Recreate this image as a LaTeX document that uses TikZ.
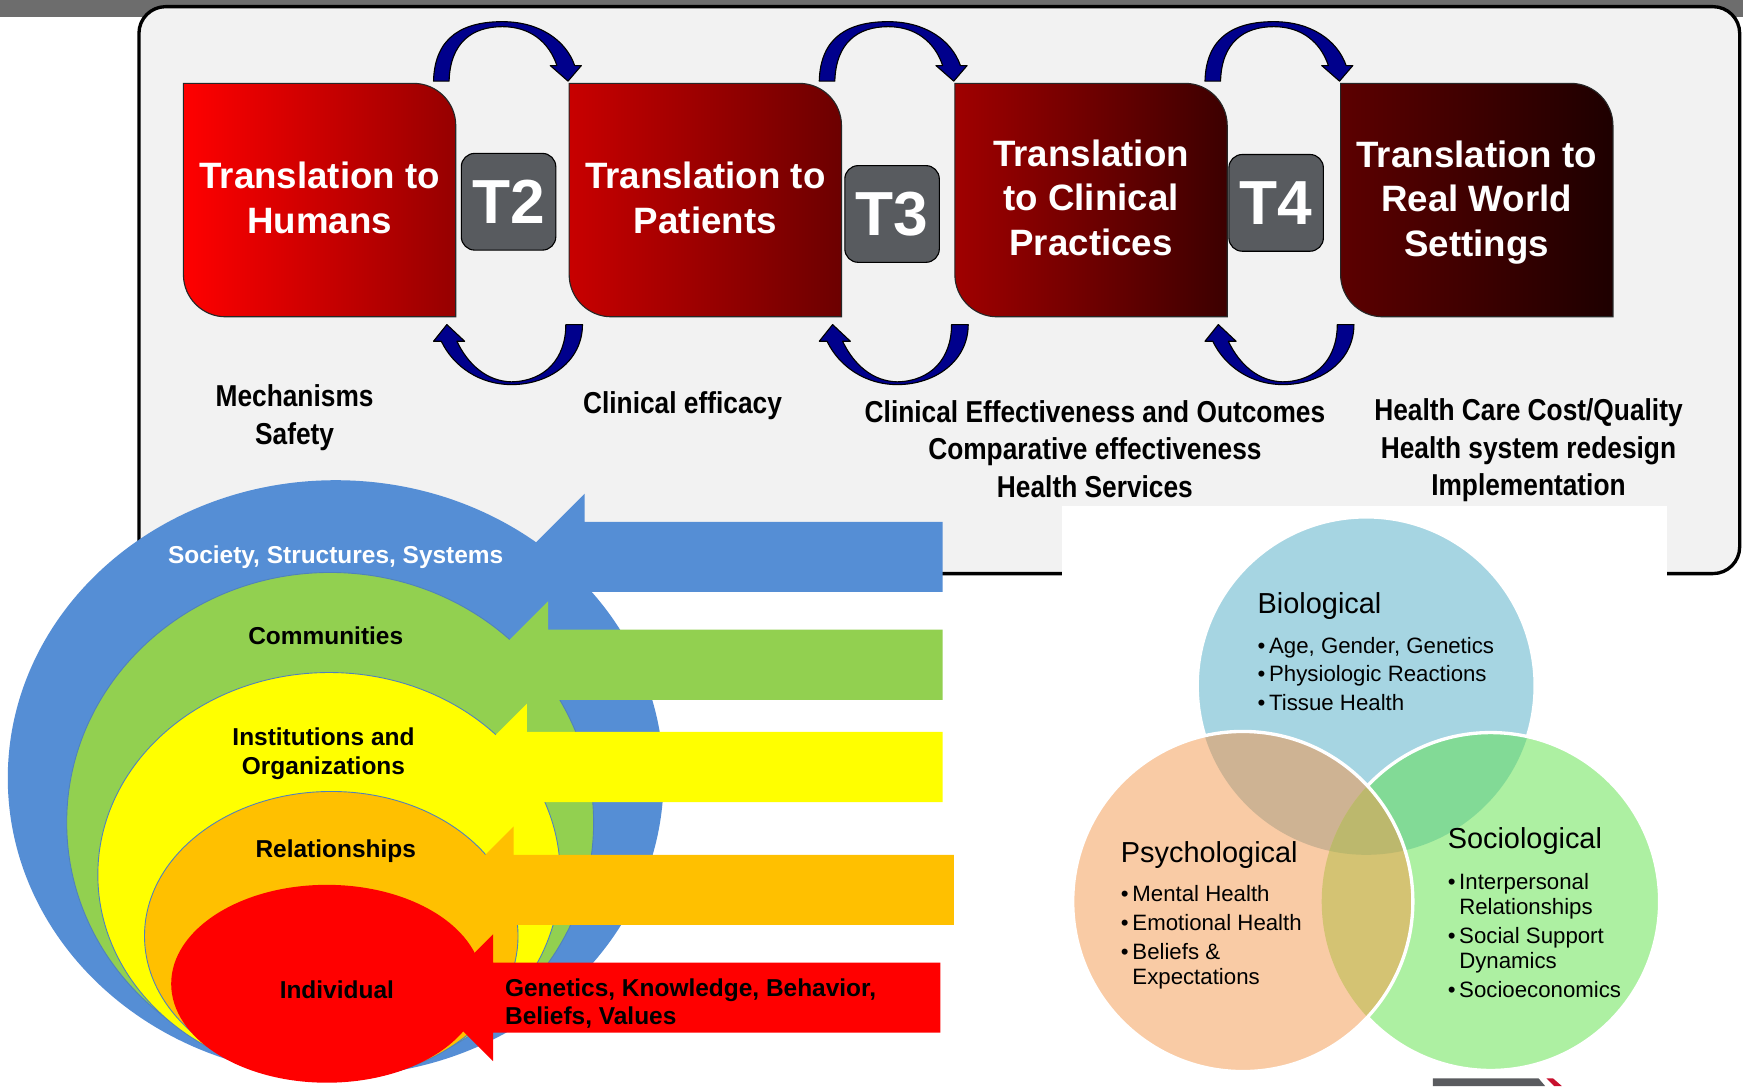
\documentclass[tikz,border=0pt]{standalone}
\usepackage{fontspec}
\setmainfont{Liberation Sans}
\newfontfamily\capfont{Liberation Sans}[FakeStretch=0.87]

\definecolor{panel}{HTML}{F2F2F2}
\definecolor{stripgray}{HTML}{6D6D6D}
\definecolor{tgray}{HTML}{585B5F}
\definecolor{navyarc}{HTML}{00008C}
% stage box shades, left/right
\definecolor{stageA}{HTML}{FF0000}
\definecolor{stageB}{HTML}{960000}
\definecolor{stageC}{HTML}{C80000}
\definecolor{stageD}{HTML}{6C0000}
\definecolor{stageE}{HTML}{A00000}
\definecolor{stageF}{HTML}{3C0000}
\definecolor{stageG}{HTML}{5C0000}
\definecolor{stageH}{HTML}{1E0000}
% ecological levels
\definecolor{sky}{HTML}{558ED5}
\definecolor{leaf}{HTML}{92D050}
\definecolor{sun}{HTML}{FFFF00}
\definecolor{amber}{HTML}{FFC000}
\definecolor{rim}{HTML}{4F81BD}
% venn
\definecolor{bioC}{HTML}{A6D5E2}
\definecolor{psyC}{HTML}{F9CBA5}
\definecolor{socC}{HTML}{ADF0A2}
\definecolor{bioPsy}{HTML}{CEB393}
\definecolor{bioSoc}{HTML}{82DA96}
\definecolor{psySoc}{HTML}{D4C373}
\definecolor{allThree}{HTML}{BCB86D}
\definecolor{logoRed}{HTML}{C8102E}
\definecolor{logoGray}{HTML}{5A5B5F}

\begin{document}
\begin{tikzpicture}[x=0.5pt, y=-0.5pt,
	boxtext/.style={text=white, align=center, font=\fontsize{16.5}{20}\selectfont\bfseries},
	tlab/.style={fill=tgray, draw=black, line width=0.5pt, rounded corners=6pt, minimum width=42.5pt, minimum height=43.5pt, inner sep=0pt, text=white, font=\fontsize{28}{30}\selectfont\bfseries},
	stagenote/.style={align=center, font=\capfont\fontsize{13.6}{17}\selectfont\bfseries},
	ringlabel/.style={align=center, inner sep=0pt, font=\fontsize{11}{13}\selectfont\bfseries},
	turnarrow/.style={fill=navyarc, draw=black, line width=0.5pt, line join=round},
	vennrim/.style={draw=white, line width=1.5pt},
	vhead/.style={anchor=west, inner sep=0pt, font=\fontsize{13}{15}\selectfont},
	vlist/.style={anchor=west, inner sep=0pt, font=\fontsize{10}{11.3}\selectfont}]
	\useasboundingbox (0,0) rectangle (1568,977);
	\fill[white] (0,0) rectangle (1568,977);
	\fill[stripgray] (0,0) rectangle (1568,15);
	\draw[line width=1.5pt, fill=panel, rounded corners=12pt] (125,6) rectangle (1565,516);

	% translation stages
	\foreach \bx/\xa/\lc/\rc/\ty/\txt in {
		b1/165/stageA/stageB/178/{Translation to\\Humans},
		b2/512/stageC/stageD/178/{Translation to\\Patients},
		b3/859/stageE/stageF/178/{Translation\\to Clinical\\Practices},
		b4/1206/stageG/stageH/182/{Translation to\\Real World\\Settings}}
	{
		\draw[left color=\lc, right color=\rc, draw=black!85, line width=0.5pt]
			(\xa,75) -- ({\xa+207},75) arc[start angle=-90, end angle=0, radius=38]
			-- ({\xa+245},285) -- ({\xa+38},285) arc[start angle=90, end angle=180, radius=38] -- cycle;
		\coordinate (\bx ne) at ({\xa+245},75);
		\coordinate (\bx se) at ({\xa+245},285);
		\node[boxtext] (\bx) at ({\xa+122.5},\ty) {\txt};
	}
	\node[tlab] (t2) at (457.5,181.5) {T2};
	\node[tlab] (t3) at (802.5,192.5) {T3};
	\node[tlab] (t4) at (1148,182.5) {T4};

	% curved arrows over and under each gap
	\foreach \g in {b1,b2,b3}{
		\begin{scope}[shift={(\g ne)}]
			\draw[turnarrow] (-20,-2) .. controls (-19,-43) and (8,-55.5) .. (42,-55.5)
				.. controls (75,-55.5) and (99,-39) .. (107,-16) -- (113,-16) -- (101,-2) -- (85,-16) -- (91,-16)
				.. controls (84,-37) and (67,-51) .. (42,-51) .. controls (15,-51) and (-5,-37) .. (-6,-2) -- cycle;
		\end{scope}
		\begin{scope}[shift={(\g se)}]
			\draw[turnarrow] (114,7) .. controls (114,40) and (84,61) .. (50,61)
				.. controls (22,61) and (-2,45) .. (-13,22) -- (-20,22) -- (-8,7) -- (8,22) -- (1,22)
				.. controls (11,43) and (28,58) .. (50,58.5) .. controls (80,58) and (99,38) .. (99,7) -- cycle;
		\end{scope}
	}

	\node[stagenote] (n1) at (265,375.5) {Mechanisms\\Safety};
	\node[stagenote] (n2) at (614,365) {Clinical efficacy};
	\node[stagenote] (n3) at (985,404) {Clinical Effectiveness and Outcomes\\Comparative effectiveness\\Health Services};
	\node[stagenote] (n4) at (1375,405) {Health Care Cost/Quality\\Health system redesign\\Implementation};

	% nested levels, each with its block arrow
	\foreach \col/\cx/\cy/\rx/\ry/\hx/\my/\ex/\op in {
		sky/302/700/295/268/526/501/848/0,
		leaf/297/740/237/225/493/598/848/1,
		sun/296/787/208/182/474/690/848/1,
		amber/298/842/168/130/462/800.5/858/1,
		red/294/885/140/89/443.5/897.5/846/0}
	{
		\filldraw[fill=\col, draw=rim, draw opacity=\op, line width=0.4pt] (\cx,\cy) ellipse[x radius=\rx, y radius=\ry];
		\fill[\col] ({\hx-57},\my) -- (\hx,{\my-57}) -- (\hx,{\my-31.5}) -- (\ex,{\my-31.5})
			-- (\ex,{\my+31.5}) -- (\hx,{\my+31.5}) -- (\hx,{\my+57}) -- cycle;
	}
	\node[ringlabel, text=white] (society) at (302,501) {Society, Structures, Systems};
	\node[ringlabel] (comm) at (293,572) {Communities};
	\node[ringlabel] (inst) at (291,678) {Institutions and\\Organizations};
	\node[ringlabel] (rel) at (302,766) {Relationships};
	\node[ringlabel] (indiv) at (303,890) {Individual};
	\node[ringlabel, align=left, anchor=west, font=\fontsize{11}{12.5}\selectfont\bfseries] (traits) at (454,902.5) {Genetics, Knowledge, Behavior,\\Beliefs, Values};

	% biopsychosocial venn
	\fill[white] (955,455) rectangle (1500,977);
	\coordinate (bio) at (1229,617);
	\coordinate (psy) at (1118,811);
	\coordinate (sc) at (1341,811);
	\fill[bioC] (bio) circle[radius=152];
	\draw[vennrim] (bio) circle[radius=152];
	\fill[socC] (sc) circle[radius=152];
	\begin{scope}
		\clip (bio) circle[radius=152];
		\fill[bioSoc] (sc) circle[radius=152];
	\end{scope}
	\draw[vennrim] (sc) circle[radius=152];
	\fill[psyC] (psy) circle[radius=153];
	\begin{scope}
		\clip (bio) circle[radius=152];
		\fill[bioPsy] (psy) circle[radius=153];
	\end{scope}
	\begin{scope}
		\clip (sc) circle[radius=152];
		\fill[psySoc] (psy) circle[radius=153];
		\clip (bio) circle[radius=152];
		\fill[allThree] (psy) circle[radius=153];
	\end{scope}
	\draw[vennrim] (psy) circle[radius=153];

	\node[vhead] (bioh) at (1131,545) {Biological};
	\node[vlist] (biol) at (1131,609) {\begin{tabular}{@{}l@{\,}l@{}}•&Age, Gender, Genetics\\[1.7pt]•&Physiologic Reactions\\[1.7pt]•&Tissue Health\end{tabular}};
	\node[vhead] (psyh) at (1008,769) {Psychological};
	\node[vlist] (psyl) at (1008,844) {\begin{tabular}{@{}l@{\,}l@{}}•&Mental Health\\[1.7pt]•&Emotional Health\\[1.7pt]•&Beliefs \&\\&Expectations\end{tabular}};
	\node[vhead] (soch) at (1302,757) {Sociological};
	\node[vlist] (socl) at (1302,844) {\begin{tabular}{@{}l@{\,}l@{}}•&Interpersonal\\&Relationships\\[1.7pt]•&Social Support\\&Dynamics\\[1.7pt]•&Socioeconomics\end{tabular}};

	% corner mark
	\fill[logoGray] (1289,970) -- (1384,970) -- (1390,977) -- (1289,977) -- cycle;
	\fill[logoRed] (1391,970) -- (1397,970) -- (1405,977) -- (1398,977) -- cycle;
\end{tikzpicture}
\end{document}
